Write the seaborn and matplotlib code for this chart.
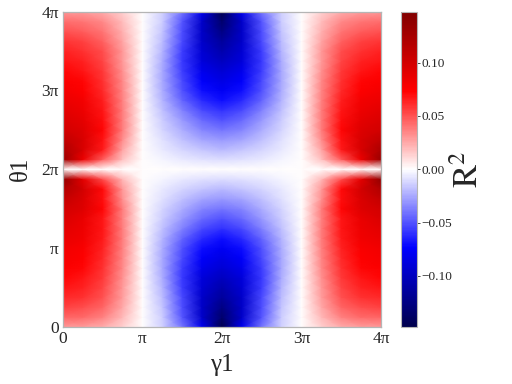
import numpy as np
import matplotlib
matplotlib.use('Agg')
import matplotlib.pyplot as plt
import matplotlib.ticker as mticker
import seaborn as sns

# R^2 on a grid: rows are theta_1 = 0 .. 4pi in steps of pi/8,
# columns are gamma_1 = 0 .. 4pi in steps of pi/4
r2_rows = [
    [0.030, 0.028, 0.024, 0.013, 0, -0.013, -0.040, -0.080, -0.148, -0.080, -0.040, -0.013, 0, 0.013, 0.024, 0.028, 0.030],
    [0.045, 0.043, 0.036, 0.020, 0, -0.015, -0.049, -0.095, -0.135, -0.095, -0.049, -0.015, 0, 0.020, 0.036, 0.043, 0.045],
    [0.055, 0.052, 0.044, 0.025, 0, -0.017, -0.052, -0.097, -0.125, -0.097, -0.052, -0.017, 0, 0.025, 0.044, 0.052, 0.055],
    [0.062, 0.059, 0.050, 0.028, 0, -0.019, -0.053, -0.095, -0.115, -0.095, -0.053, -0.019, 0, 0.028, 0.050, 0.059, 0.062],
    [0.068, 0.064, 0.054, 0.030, 0, -0.021, -0.056, -0.092, -0.108, -0.092, -0.056, -0.021, 0, 0.030, 0.054, 0.064, 0.068],
    [0.072, 0.068, 0.057, 0.032, 0, -0.024, -0.057, -0.088, -0.100, -0.088, -0.057, -0.024, 0, 0.032, 0.057, 0.068, 0.072],
    [0.076, 0.072, 0.060, 0.034, 0, -0.025, -0.056, -0.082, -0.092, -0.082, -0.056, -0.025, 0, 0.034, 0.060, 0.072, 0.076],
    [0.079, 0.075, 0.062, 0.035, 0, -0.025, -0.053, -0.076, -0.085, -0.076, -0.053, -0.025, 0, 0.035, 0.062, 0.075, 0.079],
    [0.082, 0.077, 0.064, 0.036, 0, -0.024, -0.050, -0.070, -0.078, -0.070, -0.050, -0.024, 0, 0.036, 0.064, 0.077, 0.082],
    [0.086, 0.081, 0.066, 0.037, 0, -0.021, -0.044, -0.062, -0.070, -0.062, -0.044, -0.021, 0, 0.037, 0.066, 0.081, 0.086],
    [0.090, 0.084, 0.068, 0.037, 0, -0.018, -0.037, -0.053, -0.060, -0.053, -0.037, -0.018, 0, 0.037, 0.068, 0.084, 0.090],
    [0.095, 0.086, 0.068, 0.036, 0, -0.015, -0.030, -0.043, -0.050, -0.043, -0.030, -0.015, 0, 0.036, 0.068, 0.086, 0.095],
    [0.100, 0.093, 0.072, 0.038, 0, -0.012, -0.024, -0.035, -0.040, -0.035, -0.024, -0.012, 0, 0.038, 0.072, 0.093, 0.100],
    [0.108, 0.095, 0.070, 0.032, 0, -0.009, -0.018, -0.026, -0.030, -0.026, -0.018, -0.009, 0, 0.032, 0.070, 0.095, 0.108],
    [0.120, 0.100, 0.071, 0.030, 0, -0.006, -0.012, -0.017, -0.020, -0.017, -0.012, -0.006, 0, 0.030, 0.071, 0.100, 0.120],
    [0.138, 0.090, 0.052, 0.020, 0, -0.003, -0.006, -0.009, -0.010, -0.009, -0.006, -0.003, 0, 0.020, 0.052, 0.090, 0.138],
    [0.000, 0.000, 0.000, 0.000, 0, 0.000, 0.000, 0.000, 0.000, 0.000, 0.000, 0.000, 0, 0.000, 0.000, 0.000, 0.000],
    [0.132, 0.085, 0.047, 0.018, 0, -0.003, -0.006, -0.009, -0.010, -0.009, -0.006, -0.003, 0, 0.018, 0.047, 0.085, 0.132],
    [0.122, 0.096, 0.066, 0.026, 0, -0.006, -0.012, -0.017, -0.020, -0.017, -0.012, -0.006, 0, 0.026, 0.066, 0.096, 0.122],
    [0.110, 0.096, 0.069, 0.033, 0, -0.009, -0.018, -0.026, -0.030, -0.026, -0.018, -0.009, 0, 0.033, 0.069, 0.096, 0.110],
    [0.100, 0.093, 0.072, 0.038, 0, -0.012, -0.024, -0.035, -0.040, -0.035, -0.024, -0.012, 0, 0.038, 0.072, 0.093, 0.100],
    [0.095, 0.088, 0.070, 0.037, 0, -0.015, -0.030, -0.043, -0.050, -0.043, -0.030, -0.015, 0, 0.037, 0.070, 0.088, 0.095],
    [0.090, 0.084, 0.068, 0.037, 0, -0.018, -0.037, -0.053, -0.060, -0.053, -0.037, -0.018, 0, 0.037, 0.068, 0.084, 0.090],
    [0.085, 0.080, 0.065, 0.036, 0, -0.021, -0.044, -0.062, -0.070, -0.062, -0.044, -0.021, 0, 0.036, 0.065, 0.080, 0.085],
    [0.080, 0.075, 0.062, 0.035, 0, -0.024, -0.050, -0.070, -0.078, -0.070, -0.050, -0.024, 0, 0.035, 0.062, 0.075, 0.080],
    [0.076, 0.072, 0.060, 0.034, 0, -0.025, -0.053, -0.076, -0.085, -0.076, -0.053, -0.025, 0, 0.034, 0.060, 0.072, 0.076],
    [0.072, 0.068, 0.057, 0.032, 0, -0.025, -0.056, -0.082, -0.092, -0.082, -0.056, -0.025, 0, 0.032, 0.057, 0.068, 0.072],
    [0.068, 0.064, 0.054, 0.030, 0, -0.024, -0.057, -0.088, -0.100, -0.088, -0.057, -0.024, 0, 0.030, 0.054, 0.064, 0.068],
    [0.064, 0.060, 0.051, 0.029, 0, -0.021, -0.056, -0.092, -0.108, -0.092, -0.056, -0.021, 0, 0.029, 0.051, 0.060, 0.064],
    [0.058, 0.055, 0.046, 0.026, 0, -0.019, -0.053, -0.095, -0.115, -0.095, -0.053, -0.019, 0, 0.026, 0.046, 0.055, 0.058],
    [0.050, 0.047, 0.040, 0.022, 0, -0.017, -0.052, -0.097, -0.125, -0.097, -0.052, -0.017, 0, 0.022, 0.040, 0.047, 0.050],
    [0.042, 0.040, 0.034, 0.019, 0, -0.015, -0.049, -0.095, -0.135, -0.095, -0.049, -0.015, 0, 0.019, 0.034, 0.040, 0.042],
    [0.030, 0.028, 0.024, 0.013, 0, -0.013, -0.040, -0.080, -0.148, -0.080, -0.040, -0.013, 0, 0.013, 0.024, 0.028, 0.030],
]

pi_labels = ['0', 'π', '2π', '3π', '4π']
gamma_ticks = [0, 4, 8, 12, 16]     # grid columns at 0, pi, ..., 4pi
theta_ticks = [0, 8, 16, 24, 32]    # grid rows at 0, pi, ..., 4pi
cbar_ticks = [-0.10, -0.05, 0.00, 0.05, 0.10]
r2_limit = 0.148

sns.set_style('white')
plt.rcParams['font.family'] = ['Liberation Serif', 'DejaVu Serif']
plt.rcParams['mathtext.fontset'] = 'stix'

r2 = np.array(r2_rows)


def fmt_tick(v, pos):
    s = '%.2f' % (0.0 if abs(v) < 1e-9 else v)
    return s.replace('-', '\u2212')


fig = plt.figure(figsize=(5.12, 3.84), dpi=100)
ax = fig.add_axes([63 / 512, 57 / 384, 318 / 512, 315.5 / 384])
cax = fig.add_axes([401 / 512, 57 / 384, 16 / 512, 315.5 / 384])

# gouraud shading so the grid reads as a smooth field
sns.heatmap(r2, ax=ax, cbar_ax=cax, cmap='seismic', vmin=-r2_limit, vmax=r2_limit,
            xticklabels=False, yticklabels=False, shading='gouraud',
            cbar_kws={'ticks': cbar_ticks, 'format': mticker.FuncFormatter(fmt_tick)})

# seaborn flips the y axis; put theta = 0 at the bottom again
ax.set_xlim(0, r2.shape[1] - 1)
ax.set_ylim(0, r2.shape[0] - 1)

ax.set_xticks(gamma_ticks)
ax.set_xticklabels(pi_labels, fontsize=12.5, rotation=0)
ax.set_yticks(theta_ticks)
ax.set_yticklabels(pi_labels, fontsize=12.5, rotation=0)
ax.tick_params(length=2, width=0.6, color='#999999', pad=1)

for sp in ax.spines.values():
    sp.set_visible(True)
    sp.set_color('#b5b5b5')
    sp.set_linewidth(0.9)

ax.set_xlabel('γ1', fontsize=18, labelpad=5)
ax.set_ylabel('θ1', fontsize=18, labelpad=7)

cax.tick_params(labelsize=9.5, length=2, width=0.6, pad=1)
cax.set_ylabel(r'$\mathrm{R}^2$', fontsize=25, labelpad=1)
cbar = ax.collections[0].colorbar
cbar.outline.set_edgecolor('#b5b5b5')
cbar.outline.set_linewidth(0.8)

fig.savefig('out.png', dpi=100)
